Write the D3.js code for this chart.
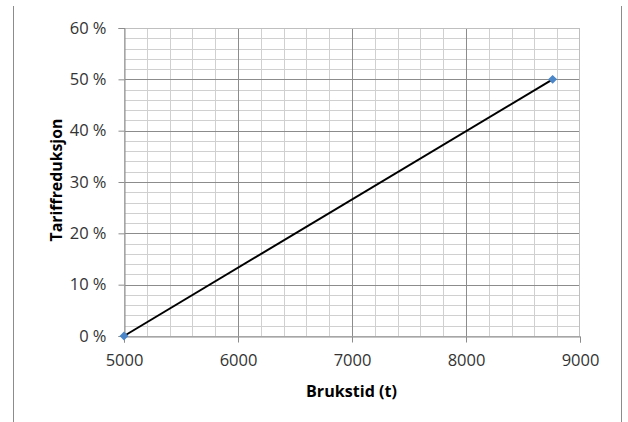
<!DOCTYPE html>
<html><head><meta charset="utf-8">
<script src="https://cdn.jsdelivr.net/npm/d3@7"></script>
<style>body{margin:0;background:#fff}text{font-family:"Open Sans",sans-serif}</style>
</head><body>
<svg id="c" width="628" height="422"></svg>
<script>
const brukstid = [5000, 8760];
const tariffreduksjon = [0, 0.5];
const xTicks = [5000, 6000, 7000, 8000, 9000];
const yTicks = [0, 0.1, 0.2, 0.3, 0.4, 0.5, 0.6];
const xTitle = "Brukstid (t)";
const yTitle = "Tariffreduksjon";

const svg = d3.select("#c");
const L = 124, R = 580, T = 28, B = 336;
const x = d3.scaleLinear().domain([5000, 9000]).range([L, R]);
const y = d3.scaleLinear().domain([0, 0.6]).range([B, T]);

// outer frame lines
svg.append("line").attr("x1",13.5).attr("x2",13.5).attr("y1",6).attr("y2",422).attr("stroke","#8c8c8c");
svg.append("line").attr("x1",621.5).attr("x2",621.5).attr("y1",6).attr("y2",422).attr("stroke","#8c8c8c");

// minor grid
const xMinor = d3.range(5000, 9001, 200).filter(v => v % 1000 !== 0);
const yMinor = d3.range(0, 61, 2).filter(v => v % 10 !== 0).map(v => v/100);
svg.append("g").selectAll("line").data(xMinor).join("line")
  .attr("x1", d => Math.round(x(d))+0.5).attr("x2", d => Math.round(x(d))+0.5)
  .attr("y1", T).attr("y2", B).attr("stroke", "#d0d0d0");
svg.append("g").selectAll("line").data(yMinor).join("line")
  .attr("y1", d => Math.round(y(d))+0.5).attr("y2", d => Math.round(y(d))+0.5)
  .attr("x1", L).attr("x2", R).attr("stroke", "#d0d0d0");

// major grid
svg.append("g").selectAll("line").data(xTicks.slice(1, -1)).join("line")
  .attr("x1", d => Math.round(x(d))+0.5).attr("x2", d => Math.round(x(d))+0.5)
  .attr("y1", T).attr("y2", B).attr("stroke", "#8c8c8c");
svg.append("g").selectAll("line").data(yTicks.slice(1, -1)).join("line")
  .attr("y1", d => Math.round(y(d))+0.5).attr("y2", d => Math.round(y(d))+0.5)
  .attr("x1", L).attr("x2", R).attr("stroke", "#8c8c8c");

// plot border
svg.append("rect").attr("x", L+0.5).attr("y", T+0.5).attr("width", R-L-1).attr("height", B-T)
  .attr("fill","none").attr("stroke","#bfbfbf");

// axes
const xa = svg.append("g").attr("transform", `translate(0,${B+0.5})`)
  .call(d3.axisBottom(x).tickValues(xTicks).tickFormat(d3.format("d")).tickSize(6).tickPadding(12));
const ya = svg.append("g").attr("transform", `translate(${L+0.5},0)`)
  .call(d3.axisLeft(y).tickValues(yTicks).tickFormat(d => Math.round(d*100) + " %").tickSize(6).tickPadding(12));
[xa, ya].forEach(a => {
  a.select(".domain").attr("stroke", "#8c8c8c");
  a.selectAll(".tick line").attr("stroke", "#8c8c8c");
  a.selectAll("text").attr("fill", "#333").style("font-size", "16.5px").style("font-family", "'Open Sans', sans-serif");
});

function fit(t, w) {
  const len = t.node().getComputedTextLength();
  const fs = parseFloat(t.style("font-size"));
  t.style("font-size", (fs * w / len) + "px");
}

// titles
const xt = svg.append("text").attr("x", 351.5).attr("y", 391).attr("dy","0.35em").attr("text-anchor","middle")
  .style("font-size","14px").style("font-weight","bold").attr("fill","#000").text(xTitle);
fit(xt, 91);
const yt = svg.append("text").attr("transform", `translate(56.5,180) rotate(-90)`).attr("dy","0.35em").attr("text-anchor","middle")
  .style("font-size","14px").style("font-weight","bold").attr("fill","#000").text(yTitle);
fit(yt, 123);

// line
const data = brukstid.map((b, i) => ({x: b, y: tariffreduksjon[i]}));
svg.append("path").datum(data)
  .attr("d", d3.line().x(d => x(d.x)).y(d => y(d.y)))
  .attr("fill","none").attr("stroke","#000").attr("stroke-width",2);

// markers
svg.append("g").selectAll("path").data(data).join("path")
  .attr("transform", d => `translate(${x(d.x)},${y(d.y)})`)
  .attr("d", d3.symbol(d3.symbolDiamond2, 50))
  .attr("fill", "#4a86c8");
</script>
</body></html>
